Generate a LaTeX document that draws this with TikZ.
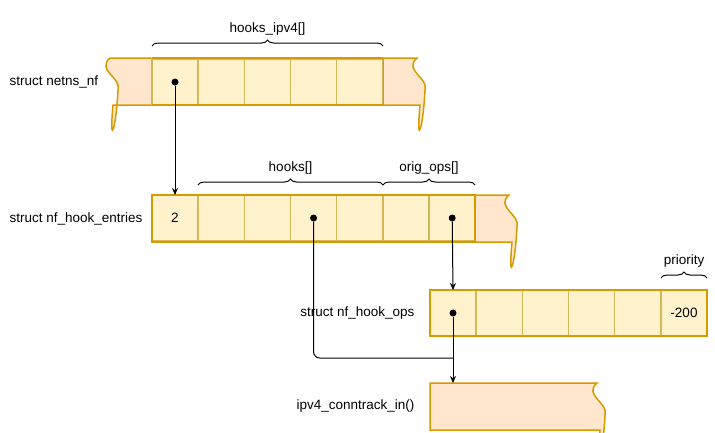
\documentclass[tikz,border=0pt]{standalone}
\usepackage{fontspec}
\setmainfont{Liberation Sans}
\usetikzlibrary{positioning, decorations.pathreplacing, arrows.meta}
\definecolor{cellfill}{HTML}{FFF2CC}
\definecolor{cellline}{HTML}{D6B656}
\definecolor{endfill}{HTML}{FFE6CC}
\definecolor{endline}{HTML}{D79B00}

\begin{document}
\begin{tikzpicture}[
    x=1pt, y=-1pt,
    font=\fontsize{13.5}{16}\selectfont,
    cell/.style={rectangle, draw=cellline, fill=cellfill, line width=1.2pt, minimum width=46pt, minimum height=46pt, inner sep=0pt, outer sep=0pt},
    edge/.style={color=endline, line width=1.5pt},
    dot/.style={circle, fill=black, inner sep=0pt, minimum size=7pt},
    arrow/.style={-{Stealth[length=7pt,width=6pt]}, line width=1pt},
    brace/.style={decorate, decoration={brace, amplitude=6pt}, line width=1pt}
]
\useasboundingbox (0,0) rectangle (715,432);

% wavy ends
\foreach \x/\y/\r in {110/58/152, 417/58/383, 509/195/475, 597/383/430} {
  \fill[endfill] (\r,\y) -- (\x,\y) .. controls +(-14,12) and +(4,-12) .. +(8,32) .. controls +(-2,40) and +(-4,44) .. +(3,47) -- (\r,\y+47) -- cycle;
  \draw[edge] (\r,\y) -- (\x,\y) .. controls +(-14,12) and +(4,-12) .. +(8,32) .. controls +(-2,40) and +(-4,44) .. +(3,47) -- (\r,\y+47) -- cycle;
}

% cells
\foreach \i in {0,...,4}
  \node[cell] (n\i) at (175+46.2*\i,82) {};
\foreach \i in {0,...,6}
  \node[cell] (e\i) at (175+46.2*\i,218) {};
\foreach \i in {0,...,5}
  \node[cell] (o\i) at (453+46.2*\i,313) {};
\draw[edge] (152,58) -- (383,58) (152,105) -- (383,105);
\draw[edge] (152,195) rectangle (475,242);
\draw[edge] (430,290) rectangle (707,336);
\node at (e0) {2};
\node at (o5) {-200};

% labels
\node[anchor=west] (lnetns) at (6,82) {struct netns\_nf};
\node[anchor=west] (lentries) at (6,219) {struct nf\_hook\_entries};
\node[anchor=east] (lops) at (418,313) {struct nf\_hook\_ops};
\node[anchor=east] (lfunc) at (418,406) {ipv4\_conntrack\_in()};
\coordinate (func) at (453,383);

% braces
\draw[brace] (152,46) -- (383,46) node[midway, above=7pt] {hooks\_ipv4[]};
\draw[brace] (198,185) -- (383,185) node[midway, above=7pt] {hooks[]};
\draw[brace] (383,185) -- (475,185) node[midway, above=7pt] {orig\_ops[]};
\draw[brace] (661,278) -- (707,278) node[midway, above=7pt] {priority};

% pointers
\node[dot] (p1) at (n0) {};
\node[dot] (p2) at (e3) {};
\node[dot] (p3) at (e6) {};
\node[dot] (p4) at (o0) {};
\draw[arrow] (p1) -- (e0.north);
\draw[arrow] (p3) -- (o0.north);
\draw[arrow] (p4) -- (func);
\draw[line width=1pt, rounded corners=6pt] (p2) |- (453,358);
\end{tikzpicture}
\end{document}
